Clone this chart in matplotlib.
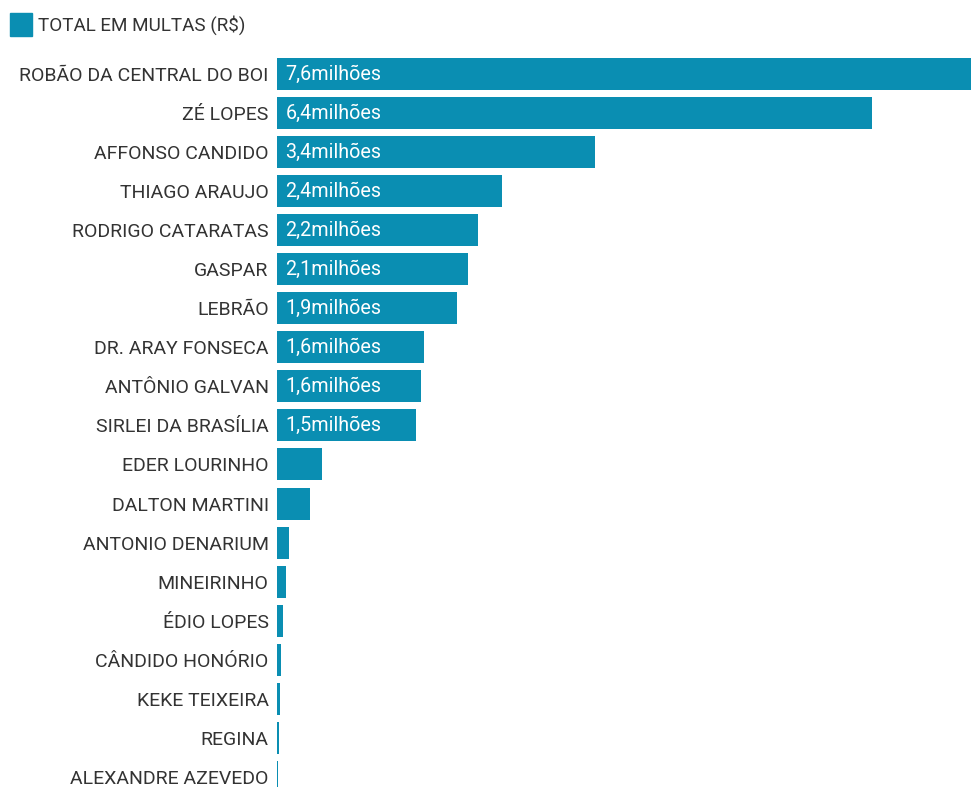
import matplotlib.pyplot as plt

plt.rcParams['font.family'] = ['Roboto', 'DejaVu Sans']

# dados (milhões de R$)
nomes = ['ROBÃO DA CENTRAL DO BOI', 'ZÉ LOPES', 'AFFONSO CANDIDO', 'THIAGO ARAUJO',
         'RODRIGO CATARATAS', 'GASPAR', 'LEBRÃO', 'DR. ARAY FONSECA', 'ANTÔNIO GALVAN',
         'SIRLEI DA BRASÍLIA', 'EDER LOURINHO', 'DALTON MARTINI', 'ANTONIO DENARIUM',
         'MINEIRINHO', 'ÉDIO LOPES', 'CÂNDIDO HONÓRIO', 'KEKE TEIXEIRA', 'REGINA',
         'ALEXANDRE AZEVEDO']
valores = [7.6, 6.4, 3.42, 2.42, 2.16, 2.05, 1.94, 1.58, 1.55, 1.49,
           0.48, 0.36, 0.13, 0.10, 0.065, 0.045, 0.027, 0.018, 0.016]
rotulos = ['7,6milhões', '6,4milhões', '3,4milhões', '2,4milhões', '2,2milhões',
           '2,1milhões', '1,9milhões', '1,6milhões', '1,6milhões', '1,5milhões']

cor = '#0A8EB2'

fig = plt.figure(figsize=(9.71, 7.87), dpi=100)
ax = fig.add_axes([277 / 971, 0, 694 / 971, 729 / 787])

y = list(range(len(nomes)))
ax.barh(y, valores, height=0.82, color=cor)
ax.set_xlim(0, 7.46)
ax.set_ylim(18.26, -0.41)

for i, r in enumerate(rotulos):
    ax.text(0.09, i, r, color='white', fontsize=14.2, va='center', ha='left')

ax.set_yticks(y)
ax.set_yticklabels(nomes, fontsize=14, color='#333333')
ax.tick_params(axis='y', length=0, pad=6)
ax.set_xticks([])
for s in ax.spines.values():
    s.set_visible(False)

# legenda
fig.patches.append(plt.Rectangle((10 / 971, 1 - 36 / 787), 22 / 971, 23 / 787,
                                 transform=fig.transFigure, color=cor))
fig.text(38 / 971, 1 - 25 / 787, 'TOTAL EM MULTAS (R$)', fontsize=13.6,
         color='#333333', va='center', ha='left')

fig.savefig('out.png', dpi=100)
